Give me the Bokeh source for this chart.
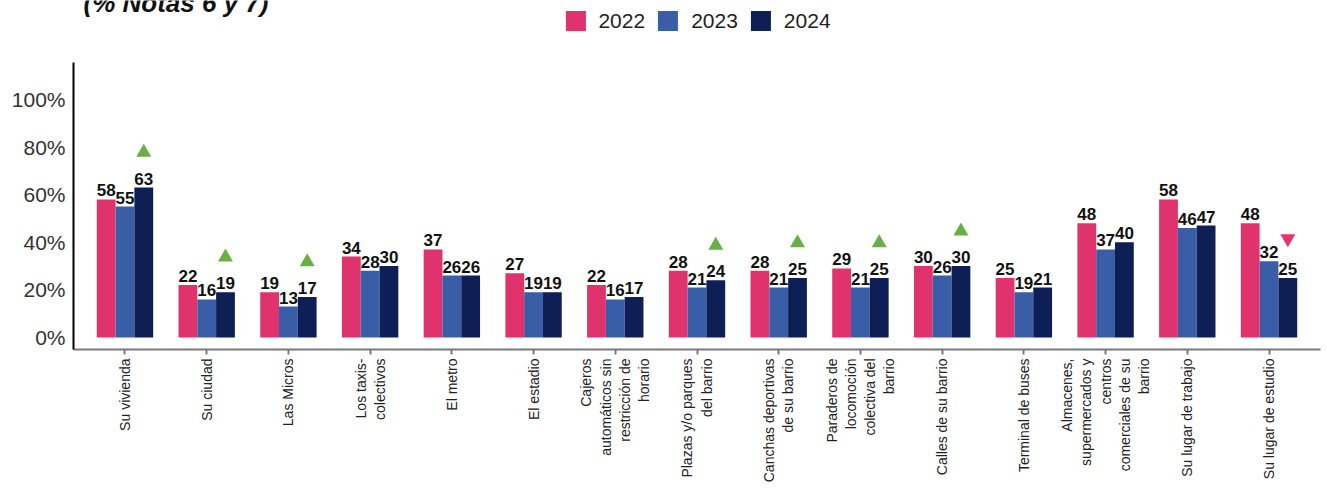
import math
from bokeh.plotting import figure
from bokeh.layouts import column
from bokeh.models import (FactorRange, Range1d, Legend, LegendItem, Label,
                          FixedTicker, PrintfTickFormatter, ColumnDataSource)
from bokeh.transform import dodge
from bokeh.embed import file_html
from bokeh.resources import INLINE
from bokeh.core.properties import value

categories = [
    "Su vivienda",
    "Su ciudad",
    "Las Micros",
    "Los taxis-\ncolectivos",
    "El metro",
    "El estadio",
    "Cajeros\nautomáticos sin\nrestricción de\nhorario",
    "Plazas y/o parques\ndel barrio",
    "Canchas deportivas\nde su barrio",
    "Paraderos de\nlocomoción\ncolectiva del\nbarrio",
    "Calles de su barrio",
    "Terminal de buses",
    "Almacenes,\nsupermercados y\ncentros\ncomerciales de su\nbarrio",
    "Su lugar de trabajo",
    "Su lugar de estudio",
]
years = ["2022", "2023", "2024"]
v2022 = [58, 22, 19, 34, 37, 27, 22, 28, 28, 29, 30, 25, 48, 58, 48]
v2023 = [55, 16, 13, 28, 26, 19, 16, 21, 21, 21, 26, 19, 37, 46, 32]
v2024 = [63, 19, 17, 30, 26, 19, 17, 24, 25, 25, 30, 21, 40, 47, 25]
trend = ["up", "up", "up", "", "", "", "", "up", "up", "up", "up", "", "", "", "down"]
y_ticks = [0, 20, 40, 60, 80, 100]
colors = ["#E0336E", "#3A5DA8", "#0E1F56"]
title_text = "(% Notas 6 y 7)"

FONT = "Liberation Sans"
series = {"2022": v2022, "2023": v2023, "2024": v2024}

data = dict(cat=categories)
for yr in years:
    data["v" + yr] = series[yr]
    data["l" + yr] = [str(v) for v in series[yr]]
src = ColumnDataSource(data)

# ---------------- header (title + legend) ----------------
head = figure(width=1327, height=62, x_range=Range1d(0, 1), y_range=Range1d(0, 1),
              x_axis_type=None, y_axis_type=None,
              min_border_left=73, min_border_right=7, min_border_top=0, min_border_bottom=0,
              output_backend="svg", toolbar_location=None)
head.xgrid.visible = False
head.ygrid.visible = False
head.outline_line_color = None

items = []
for yr, col in zip(years, colors):
    # zero-height proxy bar: only supplies the legend swatch
    r0 = head.vbar(x=[0.5], top=[0], bottom=[0], width=0.0, fill_color=col, line_color=None)
    items.append(LegendItem(label=yr, renderers=[r0]))

legend = Legend(items=items, orientation="horizontal", location="top_center",
                glyph_width=25, glyph_height=25, label_text_font_size="21px",
                label_text_font=FONT, label_text_color="#222222", label_standoff=11,
                spacing=10, padding=0, margin=8, border_line_alpha=0,
                background_fill_alpha=0)
head.add_layout(legend)

head.add_layout(Label(x=10, y=60, x_units="screen", y_units="screen", text=title_text,
                      text_font=FONT, text_font_style="bold italic", text_font_size="26px",
                      text_baseline="alphabetic", text_color="#111111"))

# ---------------- main chart ----------------
p = figure(
    x_range=FactorRange(factors=categories, range_padding=0.13, range_padding_units="absolute"),
    y_range=Range1d(-5.04, 115.5),
    width=1327, height=428,
    min_border_left=73, min_border_right=7, min_border_top=0, min_border_bottom=141,
    output_backend="svg", toolbar_location=None,
)

offsets = [-0.23, 0.0, 0.23]
bar_w = 0.23
for yr, col, off in zip(years, colors, offsets):
    p.vbar(x=dodge("cat", off, range=p.x_range), top="v" + yr, bottom=0,
           width=bar_w, source=src, fill_color=col, line_color=None)
    p.text(x=dodge("cat", off, range=p.x_range), y="v" + yr, text="l" + yr, source=src,
           text_align="center", text_baseline="alphabetic", y_offset=-9,
           text_font=value(FONT), text_font_style="bold", text_font_size="17px",
           text_color="#111111")

# trend markers above 2024 bars
up_src = ColumnDataSource(dict(
    cat=[c for c, t in zip(categories, trend) if t == "up"],
    y=[v + 14.7 for v, t in zip(v2024, trend) if t == "up"],
))
down_src = ColumnDataSource(dict(
    cat=[c for c, t in zip(categories, trend) if t == "down"],
    y=[v + 16.5 for v, t in zip(v2024, trend) if t == "down"],
))
p.scatter(x=dodge("cat", 0.23, range=p.x_range), y="y", source=up_src, marker="triangle",
          size=15, fill_color="#6AAE46", line_color=None)
p.scatter(x=dodge("cat", 0.23, range=p.x_range), y="y", source=down_src, marker="inverted_triangle",
          size=15, fill_color="#E8336D", line_color=None)

# axes
xa = p.xaxis[0]
xa.major_label_orientation = math.pi / 2
xa.major_label_text_font = FONT
xa.major_label_text_font_size = "14px"
xa.major_label_text_color = "#222222"
xa.axis_line_color = "#7a7a7a"
xa.axis_line_width = 2
xa.major_tick_line_color = "#7a7a7a"
xa.major_tick_line_width = 2
xa.major_tick_out = 5
xa.major_tick_in = 0
xa.major_label_standoff = 4

ya = p.yaxis[0]
ya.ticker = FixedTicker(ticks=y_ticks)
ya.formatter = PrintfTickFormatter(format="%d%%")
ya.major_tick_out = 0
ya.major_tick_in = 0
ya.minor_tick_out = 0
ya.minor_tick_in = 0
ya.axis_line_color = "#000000"
ya.axis_line_width = 2
ya.major_label_text_font = FONT
ya.major_label_text_font_size = "21px"
ya.major_label_text_color = "#333333"
ya.major_label_standoff = 8

p.xgrid.visible = False
p.ygrid.visible = False
p.outline_line_color = None

open("out.html", "w").write(file_html(column(head, p, spacing=0), INLINE))
